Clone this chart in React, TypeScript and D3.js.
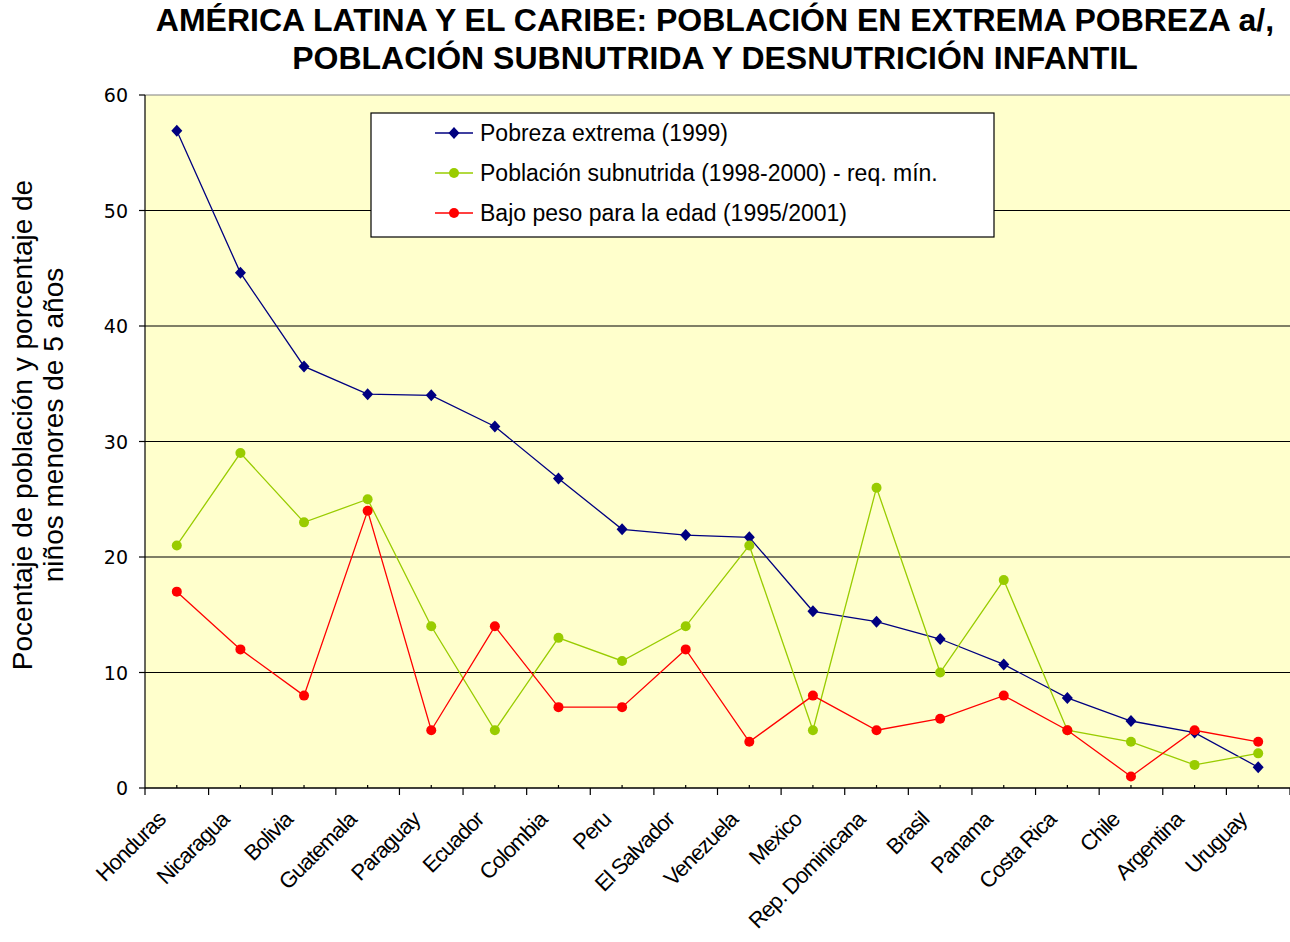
import React from "react";
import * as d3 from "d3";

const categories = ["Honduras","Nicaragua","Bolivia","Guatemala","Paraguay","Ecuador","Colombia","Peru","El Salvador","Venezuela","Mexico","Rep. Dominicana","Brasil","Panama","Costa Rica","Chile","Argentina","Uruguay"];
const pobreza = [56.9,44.6,36.5,34.1,34.0,31.3,26.8,22.4,21.9,21.7,15.3,14.4,12.9,10.7,7.8,5.8,4.8,1.8];
const subnutrida = [21,29,23,25,14,5,13,11,14,21,5,26,10,18,5,4,2,3];
const bajoPeso = [17,12,8,24,5,14,7,7,12,4,8,5,6,8,5,1,5,4];
const yTicks = [0,10,20,30,40,50,60];
const seriesNames = ["Pobreza extrema (1999)","Población subnutrida (1998-2000) - req. mín.","Bajo peso para la edad (1995/2001)"];
const titleLines = ["AMÉRICA LATINA Y EL CARIBE: POBLACIÓN EN EXTREMA POBREZA a/,","POBLACIÓN SUBNUTRIDA Y DESNUTRICIÓN INFANTIL"];
const yLabelLines = ["Pocentaje de población y porcentaje de","niños menores de 5 años"];

const W = 1290, H = 942;
const X0 = 145, X1 = 1290, YTOP = 95, YBOT = 788;
const FONT = "Arial, 'Liberation Sans', sans-serif";

export default function App() {
  const x = d3.scalePoint<string>().domain(categories).range([X0, X1]).padding(0.5);
  const y = d3.scaleLinear().domain([0, 60]).range([YBOT, YTOP]);
  const step = x.step();
  const line = d3.line<number>().x((_, i) => x(categories[i])!).y(d => y(d));
  const series = [
    { name: seriesNames[0], data: pobreza, color: "#000080", marker: "diamond" },
    { name: seriesNames[1], data: subnutrida, color: "#99CC00", marker: "circle" },
    { name: seriesNames[2], data: bajoPeso, color: "#FF0000", marker: "circle" },
  ];
  const diamond = "M0,-6L5.5,0L0,6L-5.5,0Z";
  const marker = (m: string, color: string, cx: number, cy: number, key: any) =>
    m === "diamond" ? (
      <path key={key} d={diamond} transform={`translate(${cx},${cy})`} fill={color} />
    ) : (
      <circle key={key} cx={cx} cy={cy} r={5} fill={color} />
    );
  const boundaries = d3.range(categories.length + 1).map(i => X0 + i * step);

  return (
    <svg width={W} height={H} style={{ position: "absolute", left: 0, top: 0, background: "#fff" }} fontFamily={FONT}>
      {titleLines.map((t, i) => (
        <text key={i} x={715} y={31 + i * 38} textAnchor="middle" fontSize={32} fontWeight="bold" fill="#000">{t}</text>
      ))}
      {yLabelLines.map((t, i) => (
        <text key={i} transform={`translate(${32 + i * 31},425) rotate(-90)`} textAnchor="middle" fontSize={28} fill="#000">{t}</text>
      ))}
      <rect x={X0} y={YTOP} width={X1 - X0} height={YBOT - YTOP} fill="#FFFFCC" />
      {yTicks.filter(t => t > 0).map(t => (
        <line key={t} x1={X0} x2={X1} y1={y(t)} y2={y(t)} stroke={t === 60 ? "#808080" : "#000"} strokeWidth={1.2} />
      ))}
      <line x1={X0} x2={X0} y1={YTOP} y2={YBOT} stroke="#000" strokeWidth={1.2} />
      {yTicks.map(t => (
        <g key={t}>
          <line x1={X0 - 6} x2={X0} y1={y(t)} y2={y(t)} stroke="#000" strokeWidth={1.2} />
          <text x={128} y={y(t) + 7} textAnchor="end" fontSize={19} fill="#000" fontFamily="'DejaVu Sans', sans-serif">{t}</text>
        </g>
      ))}
      <line x1={X0} x2={X1} y1={YBOT} y2={YBOT} stroke="#000" strokeWidth={1.5} />
      {boundaries.map((bx, i) => (
        <line key={"b" + i} x1={bx} x2={bx} y1={YBOT} y2={YBOT + 7} stroke="#000" strokeWidth={1.2} />
      ))}
      {categories.map(c => (
        <line key={"m" + c} x1={x(c)!} x2={x(c)!} y1={YBOT - 3} y2={YBOT} stroke="#000" strokeWidth={1.2} />
      ))}
      {categories.map(c => (
        <text key={"l" + c} transform={`translate(${x(c)! - 10},${YBOT + 33}) rotate(-45)`} textAnchor="end" fontSize={22} fill="#000" letterSpacing={-1}>{c}</text>
      ))}
      {series.map((s, si) => (
        <g key={si}>
          <path d={line(s.data)!} fill="none" stroke={s.color} strokeWidth={1.3} />
          {s.data.map((v, i) => marker(s.marker, s.color, x(categories[i])!, y(v), i))}
        </g>
      ))}
      <rect x={371} y={113} width={623} height={124} fill="#fff" stroke="#000" strokeWidth={1.2} />
      {series.map((s, i) => (
        <g key={"lg" + i}>
          <line x1={435} x2={473} y1={133 + i * 40} y2={133 + i * 40} stroke={s.color} strokeWidth={1.3} />
          {marker(s.marker, s.color, 454, 133 + i * 40, "lm" + i)}
          <text x={480} y={133 + i * 40 + 8} fontSize={23} fill="#000">{s.name}</text>
        </g>
      ))}
    </svg>
  );
}
